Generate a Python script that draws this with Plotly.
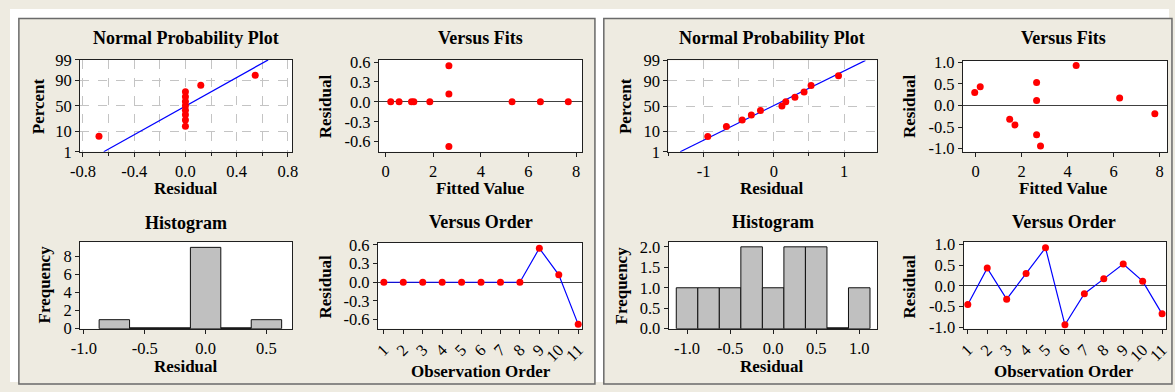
import plotly.graph_objects as go
from statistics import NormalDist

W, H = 1175, 392

# ---------------- data ----------------
obs = list(range(1, 12))
obs_ticks = [str(i) for i in obs]

# left analysis
left_resid = [0, 0, 0, 0, 0, 0, 0, 0, 0.545, 0.12, -0.675]
left_fits = [1.19, 0.57, 1.09, 0.22, 5.31, 1.86, 7.67, 6.50, 2.66, 2.66, 2.66]
left_line_resid = [-0.638, 0.646]
left_hist_centers = [-0.75, -0.5, -0.25, 0.0, 0.25, 0.5]
left_hist_counts = [1, 0, 0, 9, 0, 1]

# right analysis
right_resid = [-0.45, 0.43, -0.32, 0.30, 0.92, -0.94, -0.19, 0.17, 0.53, 0.115, -0.675]
right_fits = [1.71, 0.20, 1.48, -0.04, 4.37, 2.82, 7.79, 6.26, 2.65, 2.65, 2.65]
right_line_resid = [-1.332, 1.304]
right_hist_centers = [-1.0, -0.75, -0.5, -0.25, 0.0, 0.25, 0.5, 0.75, 1.0]
right_hist_counts = [1, 1, 1, 2, 1, 2, 2, 0, 1]

# normal probability plot positions (percent) and fitted-line percent ends
npp_percent = [6.1, 14.9, 23.7, 32.5, 41.2, 50.0, 58.8, 67.5, 76.3, 85.1, 93.9]
line_percent = [1, 99]
pct_ticks = [1, 10, 50, 90, 99]

# tick values
left_npp_xticks = [-0.8, -0.4, 0.0, 0.4, 0.8]
right_npp_xticks = [-1, 0, 1]
fits_xticks = [0, 2, 4, 6, 8]
left_res_yticks = [-0.6, -0.3, 0.0, 0.3, 0.6]
right_res_yticks = [-1.0, -0.5, 0.0, 0.5, 1.0]
left_hist_xticks = [-1.0, -0.5, 0.0, 0.5]
right_hist_xticks = [-1.0, -0.5, 0.0, 0.5, 1.0]
left_hist_yticks = [0, 2, 4, 6, 8]
right_hist_yticks = [0.0, 0.5, 1.0, 1.5, 2.0]

BIN_W = 0.25

# ---------------- helpers ----------------
nd = NormalDist()
def z(p):
    return nd.inv_cdf(p / 100.0)

def px(x):
    return x / W

def py(y):
    return 1 - y / H

def labels(vals, fmt):
    out = []
    for v in vals:
        s = format(v, fmt)
        if s.startswith('-') and float(s) == 0:
            s = s[1:]
        out.append(s)
    return out

BG = '#EEEBE1'
FONT = 'Liberation Serif, Times New Roman, serif'
TICKFONT = dict(family=FONT, size=16.5, color='black')
GRID = '#C4C4C4'
RED = '#FF0000'
BLUE = '#0000FF'

fig = go.Figure()
layout = dict(
    width=W, height=H, margin=dict(l=0, r=0, t=0, b=0),
    paper_bgcolor=BG, plot_bgcolor='white', showlegend=False,
    font=dict(family=FONT, color='black'),
)

def base_axis(**kw):
    d = dict(showline=True, linecolor='#202020', linewidth=1, mirror=True,
             ticks='outside', ticklen=4, tickcolor='#202020', tickwidth=1,
             tickfont=TICKFONT, showgrid=False, zeroline=False, fixedrange=True)
    d.update(kw)
    return d

def set_axes(n, xdom, ydom, xkw, ykw):
    xs = 'xaxis' if n == 1 else f'xaxis{n}'
    ys = 'yaxis' if n == 1 else f'yaxis{n}'
    ref = '' if n == 1 else str(n)
    layout[xs] = base_axis(domain=[px(xdom[0]), px(xdom[1])], anchor='y' + ref, **xkw)
    layout[ys] = base_axis(domain=[py(ydom[1]), py(ydom[0])], anchor='x' + ref, **ykw)
    return 'x' + ref, 'y' + ref

def npp_panel(n, xdom, ydom, resid, line_resid, xrange, xticks, xfmt, minor_dtick):
    xa, ya = set_axes(
        n, xdom, ydom,
        dict(range=xrange, tickvals=xticks, ticktext=labels(xticks, xfmt),
             showgrid=True, gridcolor=GRID, griddash='dash', gridwidth=1,
             minor=dict(tickmode='linear', dtick=minor_dtick, tick0=0, showgrid=True,
                        gridcolor=GRID, griddash='dash', gridwidth=1,
                        ticks='outside', ticklen=3, tickcolor='#202020')),
        dict(range=[z(line_percent[0]), z(line_percent[1])],
             tickvals=[z(p) for p in pct_ticks], ticktext=[str(p) for p in pct_ticks],
             showgrid=True, gridcolor=GRID, griddash='dash', gridwidth=1),
    )
    fig.add_trace(go.Scatter(x=line_resid, y=[z(p) for p in line_percent], mode='lines',
                             line=dict(color=BLUE, width=1.2), xaxis=xa, yaxis=ya))
    fig.add_trace(go.Scatter(x=sorted(resid), y=[z(p) for p in npp_percent], mode='markers',
                             marker=dict(color=RED, size=7), xaxis=xa, yaxis=ya))

def fits_panel(n, xdom, ydom, fits, resid, xrange, yrange, yticks):
    xa, ya = set_axes(
        n, xdom, ydom,
        dict(range=xrange, tickvals=fits_xticks, ticktext=labels(fits_xticks, 'd')),
        dict(range=yrange, tickvals=yticks, ticktext=labels(yticks, '.1f'),
             zeroline=True, zerolinecolor='#404040', zerolinewidth=1),
    )
    fig.add_trace(go.Scatter(x=fits, y=resid, mode='markers',
                             marker=dict(color=RED, size=7), xaxis=xa, yaxis=ya))

def hist_panel(n, xdom, ydom, centers, counts, xrange, xticks, yrange, yticks, yfmt):
    xa, ya = set_axes(
        n, xdom, ydom,
        dict(range=xrange, tickvals=xticks, ticktext=labels(xticks, '.1f')),
        dict(range=yrange, tickvals=yticks, ticktext=labels(yticks, yfmt)),
    )
    fig.add_trace(go.Bar(x=centers, y=counts, width=BIN_W,
                         marker=dict(color='#C0C0C0', line=dict(color='#101010', width=1)),
                         xaxis=xa, yaxis=ya))
    zx, zy = [], []
    for c, k in zip(centers, counts):
        if k == 0:
            zx += [c - BIN_W / 2, c + BIN_W / 2, None]
            zy += [0, 0, None]
    if zx:
        fig.add_trace(go.Scatter(x=zx, y=zy, mode='lines', line=dict(color='#101010', width=3),
                                 xaxis=xa, yaxis=ya, cliponaxis=False))

def order_panel(n, xdom, ydom, resid, xrange, yrange, yticks):
    xa, ya = set_axes(
        n, xdom, ydom,
        dict(range=xrange, tickvals=obs, ticktext=obs_ticks, tickangle=-45),
        dict(range=yrange, tickvals=yticks, ticktext=labels(yticks, '.1f'),
             zeroline=True, zerolinecolor='#404040', zerolinewidth=1),
    )
    fig.add_trace(go.Scatter(x=obs, y=resid, mode='lines+markers',
                             line=dict(color=BLUE, width=1.2),
                             marker=dict(color=RED, size=7), xaxis=xa, yaxis=ya,
                             cliponaxis=False))

# ---------------- left four-in-one ----------------
npp_panel(1, (71, 286), (53.5, 150), left_resid, left_line_resid, [-0.823, 0.833],
          left_npp_xticks, '.1f', 0.2)
fits_panel(2, (374, 580), (53.5, 150), left_fits, left_resid, [-0.277, 8.25],
           [-0.752, 0.632], left_res_yticks)
hist_panel(3, (71, 286), (245, 336), left_hist_centers, left_hist_counts, [-1.032, 0.711],
           left_hist_xticks, [0, 9.58], left_hist_yticks, 'd')
order_panel(4, (373, 580), (245.5, 336), left_resid, [0.695, 11.2], [-0.745, 0.636],
            left_res_yticks)

# ---------------- right four-in-one ----------------
npp_panel(5, (667.5, 879), (54, 150), right_resid, right_line_resid, [-1.5, 1.468],
          right_npp_xticks, 'd', 0.5)
fits_panel(6, (966, 1173), (54.5, 150), right_fits, right_resid, [-0.556, 8.32],
           [-1.07, 1.03], right_res_yticks)
hist_panel(7, (667.7, 879.3), (245, 336), right_hist_centers, right_hist_counts, [-1.214, 1.21],
           right_hist_xticks, [0, 2.115], right_hist_yticks, '.1f')
order_panel(8, (966.7, 1172.3), (244.5, 336), right_resid, [0.78, 11.22], [-1.035, 1.07],
            right_res_yticks)

# ---------------- texts ----------------
texts = [
    # left
    ('Normal Probability Plot', 178.5, 30, 0, 18),
    ('Versus Fits', 477, 30, 0, 18),
    ('Histogram', 178.5, 225, 0, 18),
    ('Versus Order', 477, 223.5, 0, 18),
    ('Residual', 178.5, 189, 0, 17),
    ('Fitted Value', 477, 189, 0, 17),
    ('Residual', 178.5, 376, 0, 17),
    ('Observation Order', 477, 380.5, 0, 17),
    ('Percent', 28.5, 102, -90, 17),
    ('Residual', 320, 102.5, -90, 17),
    ('Frequency', 35, 290, -90, 17),
    ('Residual', 320, 292, -90, 17),
    # right
    ('Normal Probability Plot', 773, 30, 0, 18),
    ('Versus Fits', 1068.5, 30, 0, 18),
    ('Histogram', 773.3, 224, 0, 18),
    ('Versus Order', 1068.5, 224, 0, 18),
    ('Residual', 773, 189, 0, 17),
    ('Fitted Value', 1068.5, 189, 0, 17),
    ('Residual', 773, 376, 0, 17),
    ('Observation Order', 1068.5, 380.5, 0, 17),
    ('Percent', 624, 102.5, -90, 17),
    ('Residual', 912, 102.5, -90, 17),
    ('Frequency', 620, 291, -90, 17),
    ('Residual', 912, 292, -90, 17),
]
layout['annotations'] = [
    dict(text=f'<b>{t}</b>', x=px(x), y=py(y), xref='paper', yref='paper',
         xanchor='center', yanchor='middle', showarrow=False, textangle=a,
         font=dict(family=FONT, size=s, color='black'))
    for t, x, y, a, s in texts
]

# ---------------- panel frames ----------------
def rect(x0, y0, x1, y1, fill=None, line=None, lw=0):
    d = dict(type='rect', xref='paper', yref='paper', x0=px(x0), x1=px(x1),
             y0=py(y1), y1=py(y0), layer='above')
    d['fillcolor'] = fill if fill else 'rgba(0,0,0,0)'
    d['line'] = dict(color=line if line else 'rgba(0,0,0,0)', width=lw)
    return d

layout['shapes'] = [
    rect(0, 0, 1175, 9.5, fill='white'),
    rect(0, 0, 8.5, 392, fill='white'),
    rect(593.5, 0, 601.5, 392, fill='white'),
    rect(9, 10, 593, 394, line='#6A6A6A', lw=1.5),
    rect(602, 10, 1178, 394, line='#6A6A6A', lw=1.5),
]

fig.update_layout(**layout)
fig.write_html('out.html')
